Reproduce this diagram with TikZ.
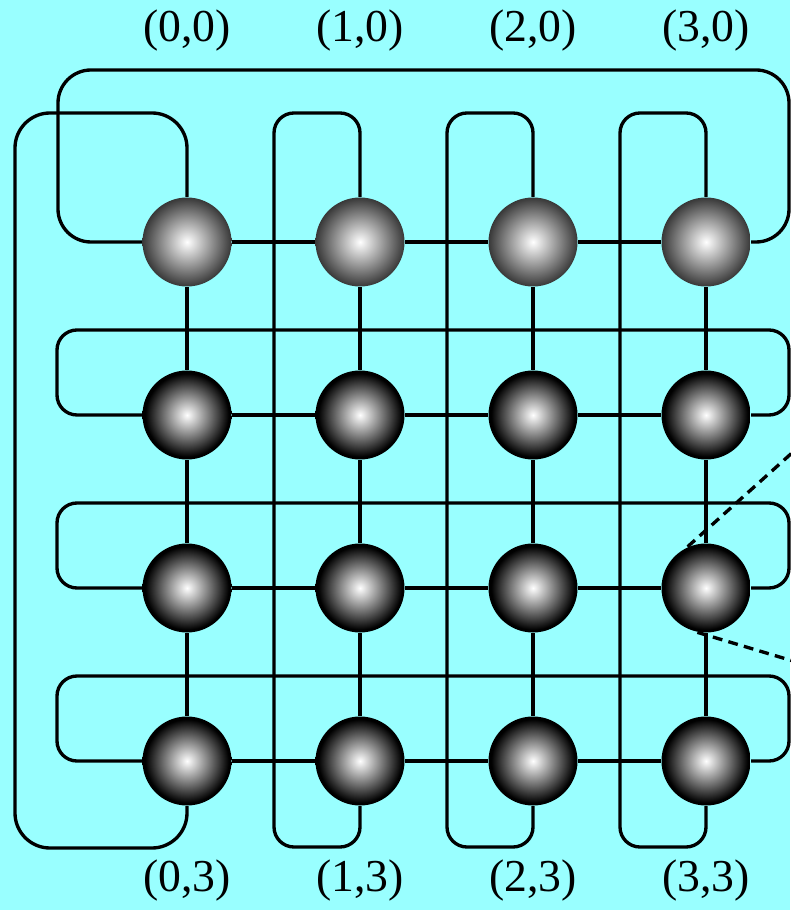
\documentclass[tikz,border=0pt]{standalone}
\usepackage{fontspec}
\setmainfont{Liberation Serif}
\usetikzlibrary{calc}
\definecolor{torusbg}{RGB}{153,255,255}
\pgfdeclareradialshading{sphlight}{\pgfpointorigin}{color(0bp)=(white); color(25bp)=(black!78); color(50bp)=(black!78)}
\pgfdeclareradialshading{sphdark}{\pgfpointorigin}{color(0bp)=(white); color(23.5bp)=(black); color(50bp)=(black)}

\begin{document}
\begin{tikzpicture}[
    link/.style={line width=0.95pt},
    ball/.style={circle,minimum size=0.89cm,inner sep=0pt},
    lbl/.style={font=\fontsize{13}{15}\selectfont}]
  \def\cs{1.73}
  \fill[torusbg] (-1.87,2.42) rectangle (6.03,-6.68);
  \useasboundingbox (-1.87,2.42) rectangle (6.03,-6.68);
  % processors, top row lighter
  \foreach \i in {0,1,2,3} {
    \node[ball,shading=sphlight] (n-\i-0) at (\i*\cs,0) {};
    \foreach \j in {1,2,3}
      \node[ball,shading=sphdark] (n-\i-\j) at (\i*\cs,-\j*\cs) {};
  }
  % mesh links
  \foreach \j in {0,1,2,3}
    \foreach \i [count=\k] in {0,1,2}
      \draw[link] (n-\i-\j) -- (n-\k-\j) (n-\j-\i) -- (n-\j-\k);
  % wrap-around links, rows
  \draw[link,rounded corners=0.33cm] (n-0-0) -- (-1.29,0) -- (-1.29,1.72)
    -- (6.02,1.72) -- (6.02,0) -- (n-3-0);
  \foreach \j in {1,2,3}
    \draw[link,rounded corners=0.2cm] (n-0-\j) -- (-1.30,-\j*\cs) -- (-1.30,-\j*\cs+0.85)
      -- (6.02,-\j*\cs+0.85) -- (6.02,-\j*\cs) -- (n-3-\j);
  % wrap-around links, columns
  \draw[link,rounded corners=0.35cm] (n-0-0) -- (0,1.29) -- (-1.72,1.29)
    -- (-1.72,-3*\cs-0.87) -- (0,-3*\cs-0.87) -- (n-0-3);
  \foreach \i in {1,2,3}
    \draw[link,rounded corners=0.2cm] (n-\i-0) -- (\i*\cs,1.29) -- (\i*\cs-0.86,1.29)
      -- (\i*\cs-0.86,-3*\cs-0.86) -- (\i*\cs,-3*\cs-0.86) -- (n-\i-3);
  % zoom lines
  \coordinate (zoomtop) at (6.06,-2.10);
  \coordinate (zoombot) at (6.06,-4.19);
  \draw[link,dash pattern=on 2.8pt off 1.8pt] (n-3-2.114) -- (zoomtop)
    (n-3-2.259) -- (zoombot);
  % labels
  \foreach \i in {0,1,2,3} {
    \node[lbl] (top-\i) at (\i*\cs,2.11) {(\i,0)};
    \node[lbl] (bot-\i) at (\i*\cs,-6.39) {(\i,3)};
  }
\end{tikzpicture}
\end{document}
